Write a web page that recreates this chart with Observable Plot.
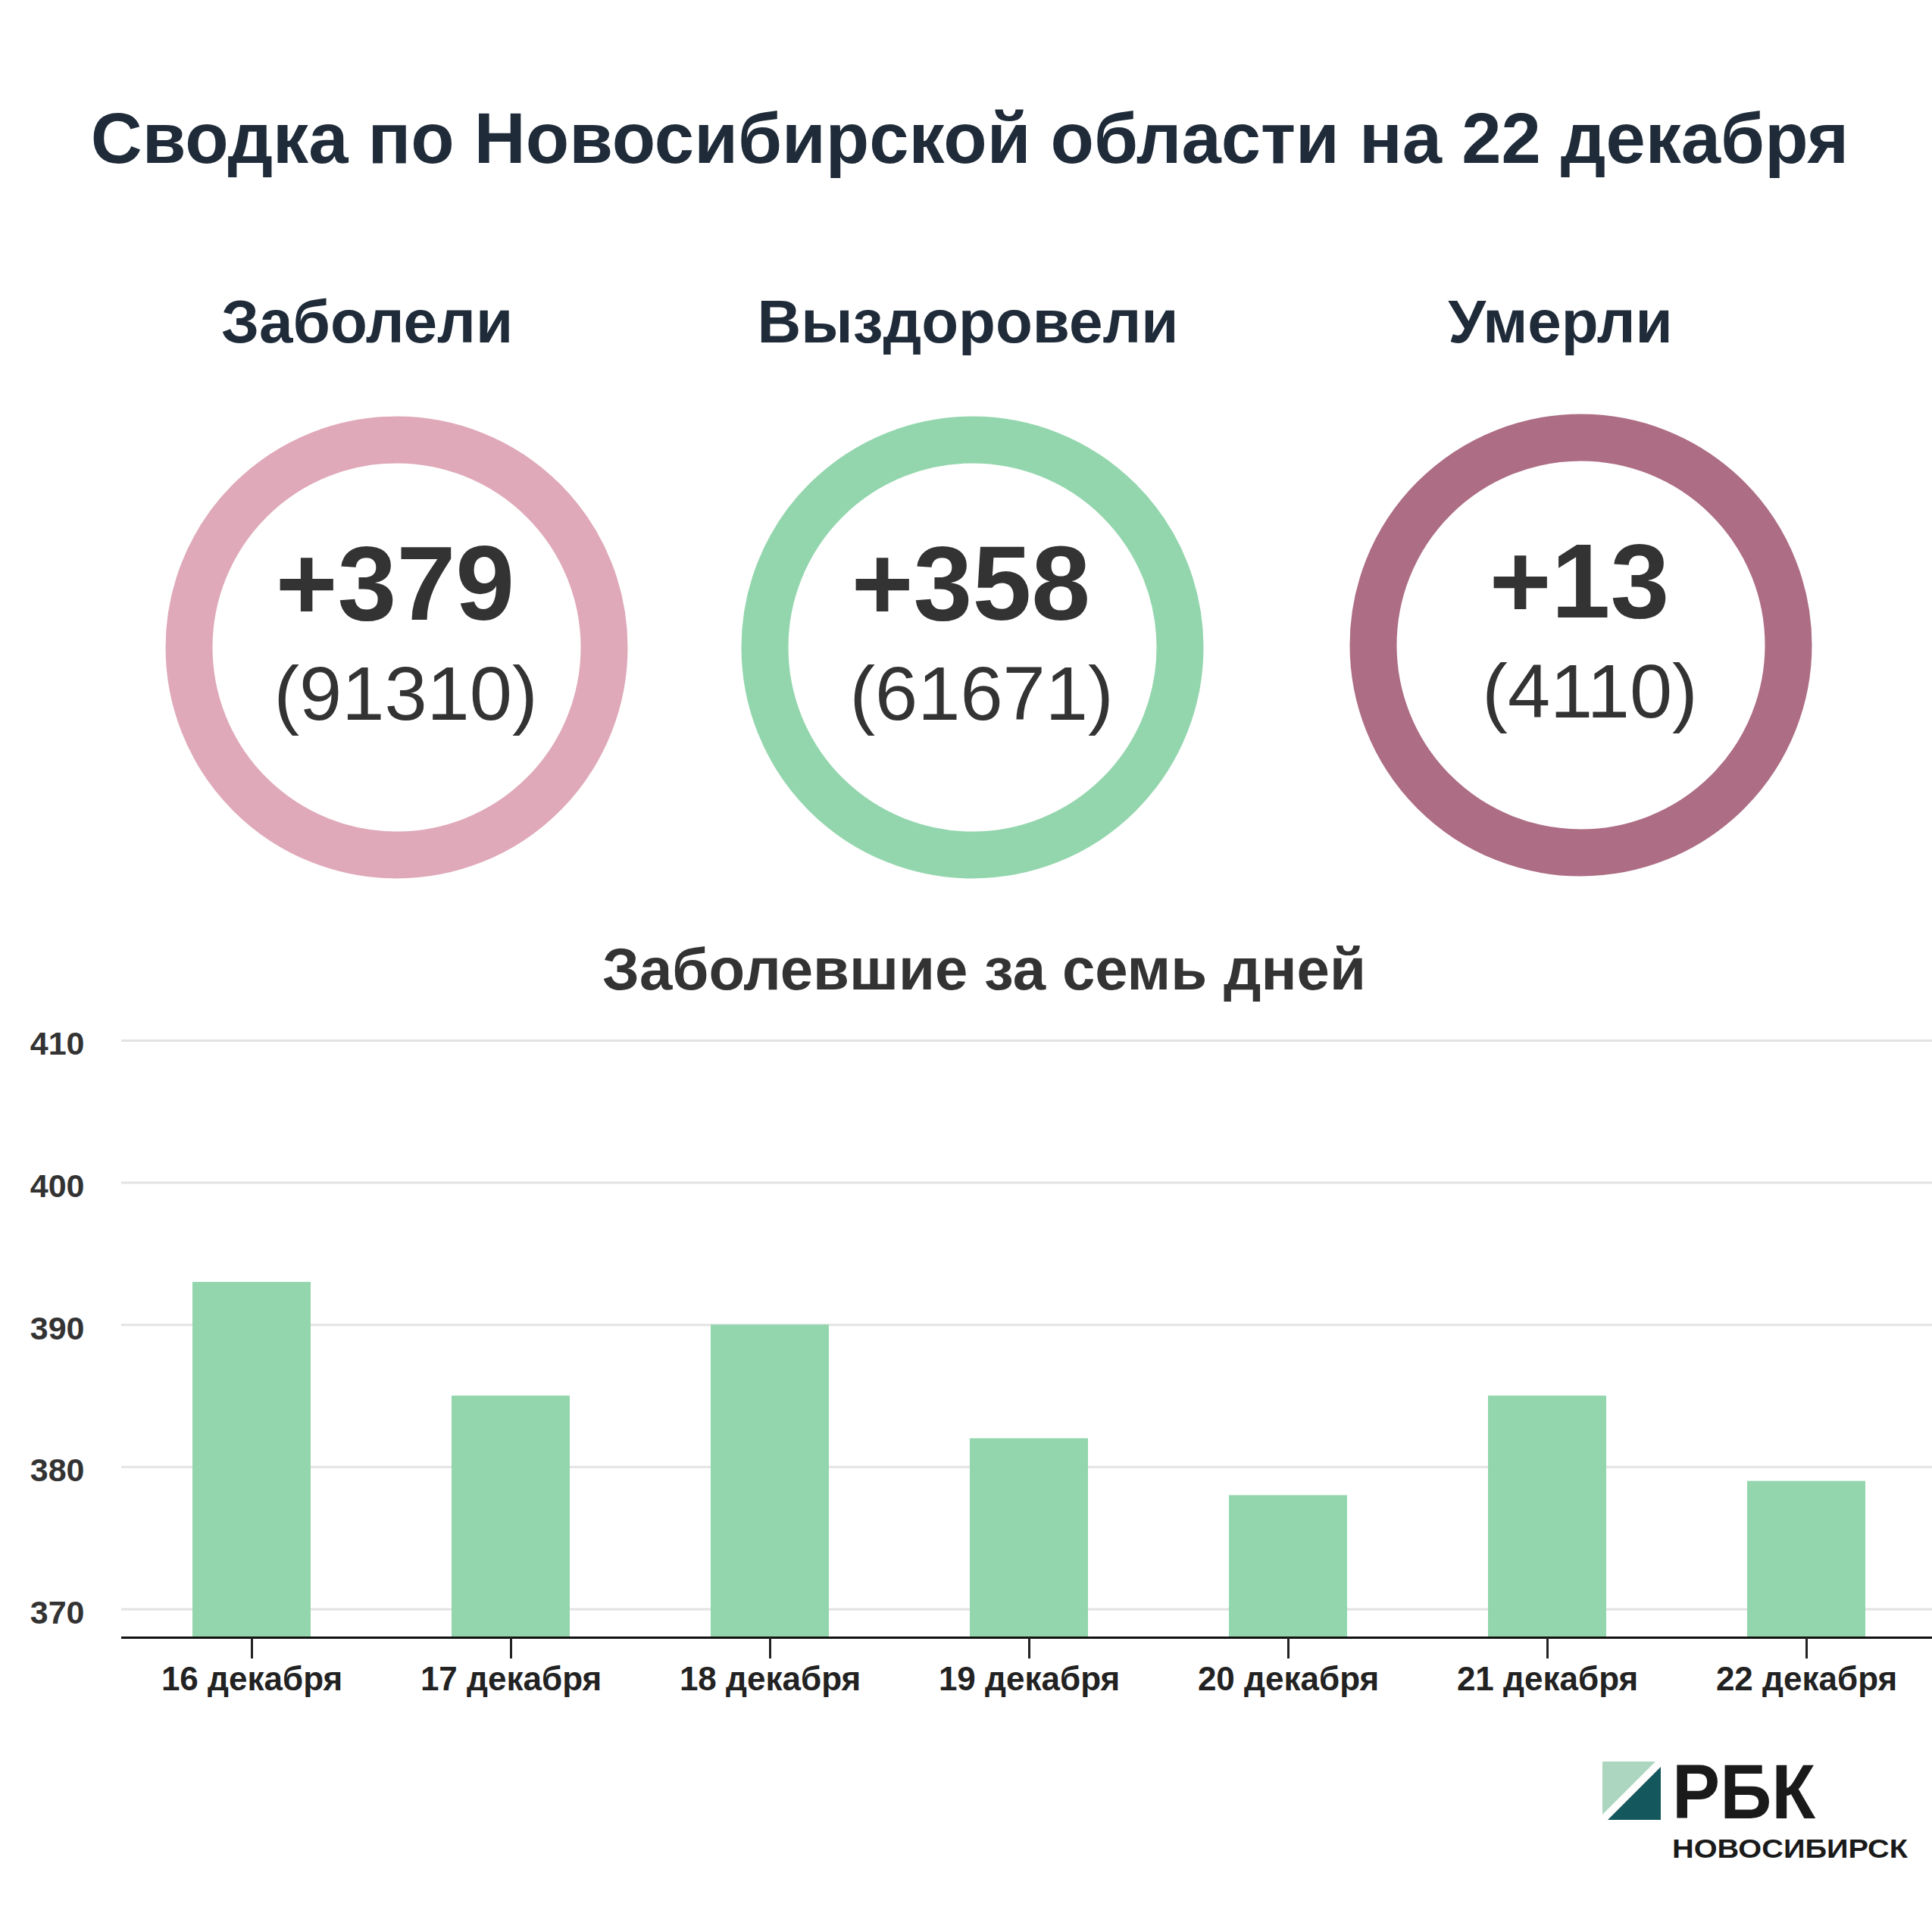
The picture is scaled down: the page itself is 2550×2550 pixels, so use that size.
<!DOCTYPE html>
<html>
<head>
<meta charset="utf-8">
<script src="https://cdn.jsdelivr.net/npm/d3@7"></script>
<script src="https://cdn.jsdelivr.net/npm/@observablehq/plot@0.6"></script>
<style>
  html, body { margin: 0; padding: 0; background: #fff; }
  #page { position: relative; width: 2550px; height: 2550px; background: #fff; overflow: hidden;
          font-family: "Liberation Sans", Arial, sans-serif; }
  .abs { position: absolute; }
</style>
</head>
<body>
<div id="page"></div>
<script>
// ---------- data ----------
const titleText = "Сводка по Новосибирской области на 22 декабря";
const indicators = ["Заболели", "Выздоровели", "Умерли"];
const dailyChange = [379, 358, 13];
const totals = [91310, 61671, 4110];
const chartTitle = "Заболевшие за семь дней";
const days = ["16 декабря", "17 декабря", "18 декабря", "19 декабря", "20 декабря", "21 декабря", "22 декабря"];
const newCases = [393, 385, 390, 382, 378, 385, 379];
const yTicks = [370, 380, 390, 400, 410];
const yDomain = [368, 410];
const logoMain = "РБК";
const logoSub = "НОВОСИБИРСК";

// ---------- styles / layout ----------
const FONT = '"Liberation Sans", Arial, sans-serif';
const ringColors = ["#dfa9b9", "#93d6ad", "#ad6d84"];
const panelLayout = [
  {cx: 523, cy: 854, hx: 484},
  {cx: 1283, cy: 854, hx: 1277},
  {cx: 2086, cy: 851, hx: 2059}
];
const headerBaseline = 451;
const PW = 760, PH = 1000;

const page = document.getElementById("page");

// overlay svg: title, subtitle, logo
const svg = d3.select(page).append("svg")
  .attr("class", "abs").attr("width", 2550).attr("height", 2550)
  .style("left", "0px").style("top", "0px")
  .style("font-family", FONT);

svg.append("text").attr("x", 1280).attr("y", 215).attr("text-anchor", "middle")
  .attr("font-size", 94).attr("font-weight", "bold").attr("fill", "#1f2b39").text(titleText);

svg.append("text").attr("x", 1299).attr("y", 1306).attr("text-anchor", "middle")
  .attr("font-size", 78).attr("font-weight", "bold").attr("fill", "#333333").text(chartTitle);

// logo
const logo = svg.append("g");
logo.append("polygon").attr("points", "2115,2325 2185,2325 2115,2395").attr("fill", "#acd6bf");
logo.append("polygon").attr("points", "2192,2332 2192,2402 2122,2402").attr("fill", "#14575c");
logo.append("text").attr("x", 2207).attr("y", 2400).attr("font-size", 102).attr("font-weight", "bold")
  .attr("fill", "#1a1a1a").attr("textLength", 189).attr("lengthAdjust", "spacingAndGlyphs").text(logoMain);
logo.append("text").attr("x", 2207).attr("y", 2452).attr("font-size", 35).attr("font-weight", "bold")
  .attr("fill", "#1a1a1a").attr("textLength", 311).attr("lengthAdjust", "spacingAndGlyphs").text(logoSub);

// ---------- indicator panels ----------
indicators.forEach((name, i) => {
  const L = panelLayout[i];
  const datum = [{name, change: dailyChange[i], total: totals[i]}];
  const p = Plot.plot({
    width: PW, height: PH,
    margin: 0,
    style: {fontFamily: FONT, background: "transparent", overflow: "visible"},
    marks: [
      Plot.dot(datum, {frameAnchor: "middle", r: 274, stroke: ringColors[i], strokeWidth: 62, fill: "none"}),
      Plot.text(datum, {frameAnchor: "middle", text: d => d.name, lineAnchor: "bottom",
        dx: L.hx - L.cx, dy: headerBaseline - L.cy, fontSize: 80, fontWeight: "bold", fill: "#1f2b39"}),
      Plot.text(datum, {frameAnchor: "middle", text: d => "+" + d.change, lineAnchor: "bottom",
        dx: -2, dy: -37, fontSize: 140, fontWeight: "bold", fill: "#333333"}),
      Plot.text(datum, {frameAnchor: "middle", text: d => "(" + d.total + ")", lineAnchor: "bottom",
        dx: 12, dy: 95, fontSize: 101, fill: "#333333"})
    ]
  });
  p.classList.add("abs");
  p.style.left = (L.cx - PW / 2) + "px";
  p.style.top = (L.cy - PH / 2) + "px";
  page.appendChild(p);
});

// ---------- bar chart ----------
const rows = days.map((d, i) => ({day: d, value: newCases[i]}));
const chart = Plot.plot({
  width: 2550, height: 970,
  marginTop: 43, marginBottom: 139, marginLeft: 160, marginRight: 0,
  style: {fontFamily: FONT, background: "transparent", overflow: "visible"},
  x: {domain: days, range: [160, 2555], paddingInner: 0.544, paddingOuter: 0.272, label: null},
  y: {domain: yDomain, label: null},
  marks: [
    Plot.gridY(yTicks, {stroke: "#e3e3e3", strokeOpacity: 1, strokeWidth: 3}),
    Plot.barY(rows, {x: "day", y1: yDomain[0], y2: "value", fill: "#93d6ad"}),
    Plot.ruleY([yDomain[0]], {stroke: "#111111", strokeWidth: 3}),
    Plot.axisY(yTicks, {tickSize: 0, tickPadding: 49, fontSize: 43, fontWeight: "bold", color: "#333333", dy: 5, label: null}),
    Plot.axisX({tickSize: 28, tickPadding: 10, fontSize: 44, fontWeight: "bold", color: "#222222", strokeWidth: 3, label: null})
  ]
});
chart.classList.add("abs");
chart.style.left = "0px";
chart.style.top = "1330px";
page.appendChild(chart);
</script>
</body>
</html>
